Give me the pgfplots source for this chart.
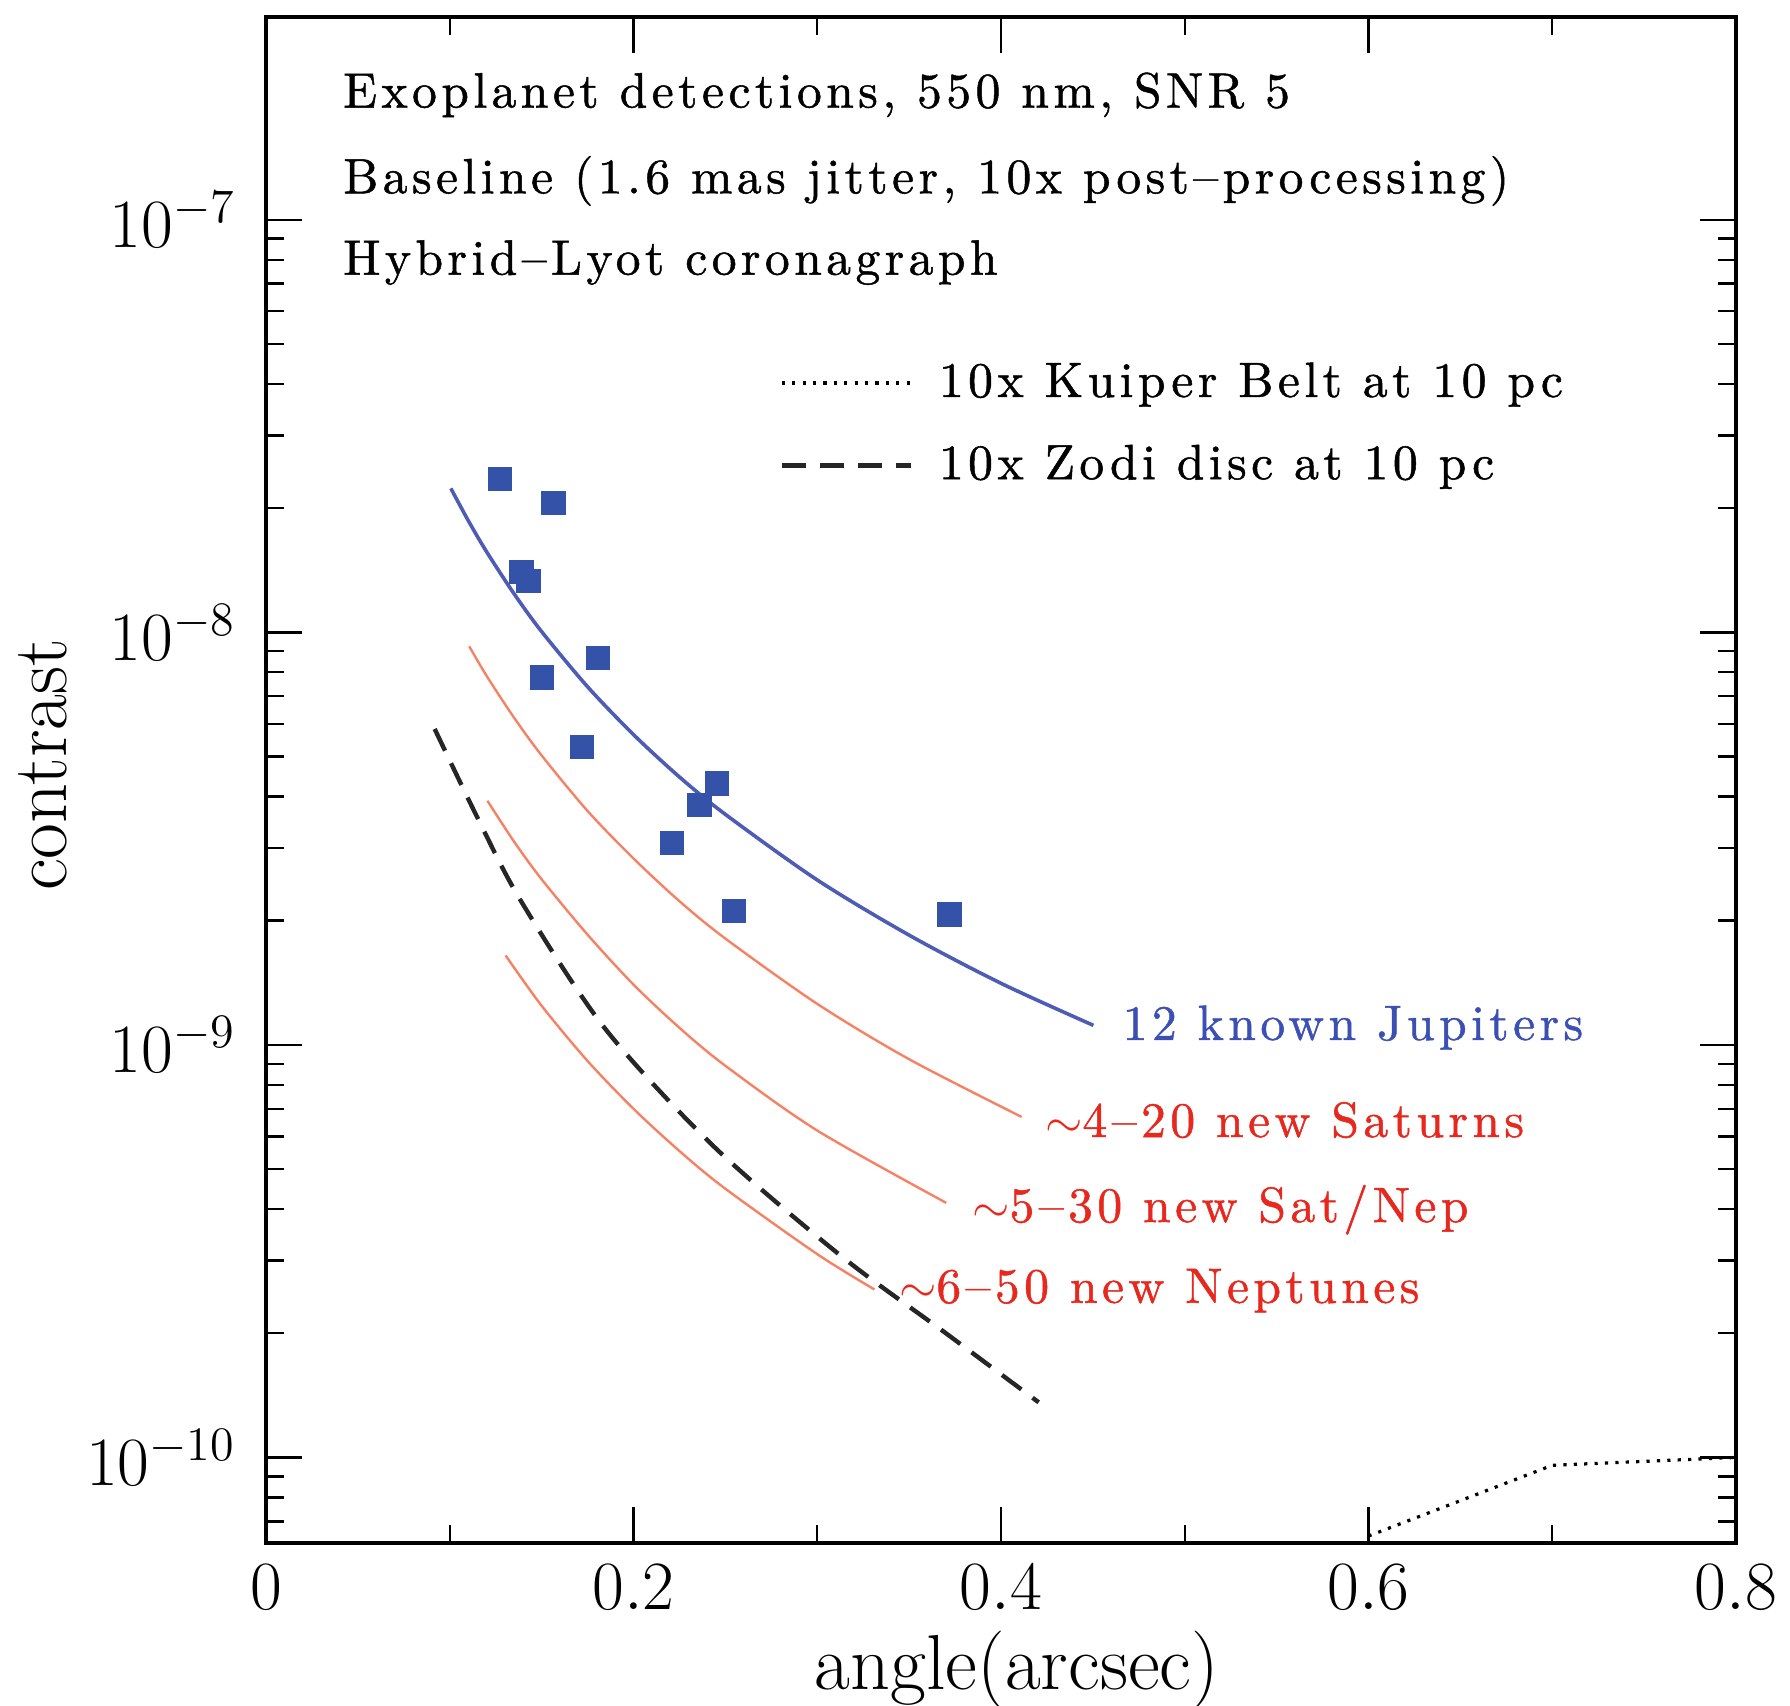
\documentclass[border=0pt]{standalone}
\usepackage{fontspec}
\usepackage{pgfplots}
\pgfplotsset{compat=1.18}
\definecolor{jup}{RGB}{52,82,168}
\definecolor{jupline}{RGB}{78,92,180}
\definecolor{orl}{RGB}{245,130,100}
\definecolor{redtxt}{RGB}{230,40,30}
\definecolor{bluetxt}{RGB}{60,80,180}
\newfontfamily\labfont{lmroman10-regular.otf}[LetterSpace=9, FakeBold=1]
\newcommand\lab{\labfont\fontsize{12.4}{14}\selectfont}
\begin{document}
\begin{tikzpicture}
\begin{axis}[
  width=367.5pt, height=381.5pt, scale only axis,
  xmin=0, xmax=0.8, ymode=log, ymin=6.2e-11, ymax=3.1e-7,
  xtick={0,0.2,0.4,0.6,0.8}, minor xtick={0.1,0.3,0.5,0.7},
  major tick length=9pt, minor tick length=4.5pt,
  tick style={black, line width=0.6pt},
  axis line style={line width=0.8pt},
  tick label style={font=\fontsize{17}{17}\selectfont},
  xticklabel style={yshift=-2pt},
  yticklabel style={xshift=-4pt},
  xlabel={angle(arcsec)}, ylabel={contrast},
  label style={font=\fontsize{19.5}{21}\selectfont},
  xlabel style={at={(axis description cs:0.5,0)}, anchor=base, yshift=-36.7pt, xshift=4pt},
  ylabel style={at={(axis description cs:-0.136,0.51)}, anchor=base},
  clip=false,
]
% Jupiter curve
\addplot[color=jupline, line width=0.9pt, smooth] coordinates {
 (0.1006,2.233e-8) (0.11,1.868e-8) (0.12,1.569e-8) (0.135,1.240e-8) (0.15,1.004e-8)
 (0.175,7.38e-9) (0.2,5.65e-9) (0.225,4.46e-9) (0.25,3.62e-9) (0.3,2.51e-9)
 (0.35,1.845e-9) (0.4,1.41e-9) (0.4503,1.115e-9)};
% Saturns
\addplot[color=orl, line width=0.6pt, smooth] coordinates {
 (0.1106,9.25e-9) (0.12,7.85e-9) (0.135,6.21e-9) (0.15,5.03e-9) (0.175,3.69e-9)
 (0.2,2.83e-9) (0.225,2.23e-9) (0.25,1.81e-9) (0.3,1.257e-9) (0.35,9.23e-10)
 (0.4112,6.69e-10)};
% Sat/Nep
\addplot[color=orl, line width=0.6pt, smooth] coordinates {
 (0.1205,3.905e-9) (0.135,3.11e-9) (0.15,2.52e-9) (0.175,1.85e-9) (0.2,1.40e-9)
 (0.225,1.10e-9) (0.25,8.9e-10) (0.3,6.2e-10) (0.3702,4.14e-10)};
% Neptunes
\addplot[color=orl, line width=0.6pt, smooth] coordinates {
 (0.1304,1.647e-9) (0.15,1.244e-9) (0.175,9.14e-10) (0.2,7.0e-10) (0.225,5.53e-10)
 (0.25,4.48e-10) (0.3,3.11e-10) (0.3311,2.554e-10)};
% Zodi dashed
\addplot[color=black!85, line width=1.1pt, dash pattern=on 6pt off 3.5pt, smooth] coordinates {
 (0.0918,5.83e-9) (0.115,3.56e-9) (0.1388,2.23e-9) (0.1846,1.094e-9) (0.2441,5.65e-10)
 (0.3129,3.08e-10) (0.37,2.0e-10) (0.4205,1.36e-10)};
% Kuiper dotted
\addplot[color=black, line width=0.8pt, dash pattern=on 0.8pt off 1.8pt] coordinates {
 (0.6,6.45e-11) (0.7,9.57e-11) (0.8,1.0e-10)};
% known Jupiters
\addplot[only marks, mark=square*, mark size=2.85pt, color=jup] coordinates {
 (0.1273,2.35e-8) (0.1565,2.06e-8) (0.139,1.40e-8) (0.1429,1.33e-8)
 (0.1807,8.67e-9) (0.1503,7.78e-9) (0.172,5.27e-9) (0.2453,4.30e-9)
 (0.236,3.81e-9) (0.2211,3.09e-9) (0.2547,2.11e-9) (0.372,2.07e-9)};
% annotations
\node[anchor=base west, inner sep=0] at (axis cs:0.0416,1.871e-7) {\lab Exoplanet detections, 550 nm, SNR 5};
\node[anchor=base west, inner sep=0] at (axis cs:0.0416,1.159e-7) {\lab Baseline (1.6 mas jitter, 10x post\textendash processing)};
\node[anchor=base west, inner sep=0] at (axis cs:0.0416,7.36e-8) {\lab Hybrid\textendash Lyot coronagraph};
% legend
\draw[line width=0.8pt, dash pattern=on 0.8pt off 1.8pt] (axis cs:0.2807,4.02e-8) -- (axis cs:0.3509,4.02e-8);
\draw[line width=1.1pt, color=black!85, dash pattern=on 6pt off 3.5pt] (axis cs:0.2807,2.535e-8) -- (axis cs:0.3509,2.535e-8);
\node[anchor=base west, inner sep=0] at (axis cs:0.3658,3.72e-8) {\lab 10x Kuiper Belt at 10 pc};
\node[anchor=base west, inner sep=0] at (axis cs:0.3658,2.35e-8) {\lab 10x Zodi disc at 10 pc};
% curve labels
\node[anchor=base west, inner sep=0, text=bluetxt] at (axis cs:0.4658,1.028e-9) {\lab 12 known Jupiters};
\node[anchor=base west, inner sep=0, text=redtxt] at (axis cs:0.4236,5.98e-10) {\lab $\sim$4\textendash 20 new Saturns};
\node[anchor=base west, inner sep=0, text=redtxt] at (axis cs:0.3839,3.72e-10) {\lab $\sim$5\textendash 30 new Sat/Nep};
\node[anchor=base west, inner sep=0, text=redtxt] at (axis cs:0.3441,2.37e-10) {\lab $\sim$6\textendash 50 new Neptunes};
\end{axis}
\pgfresetboundingbox
\path ([shift={(-66.5pt,-40.5pt)}]current axis.south west) rectangle ([shift={(13.5pt,4.25pt)}]current axis.north east);
\end{tikzpicture}
\end{document}
